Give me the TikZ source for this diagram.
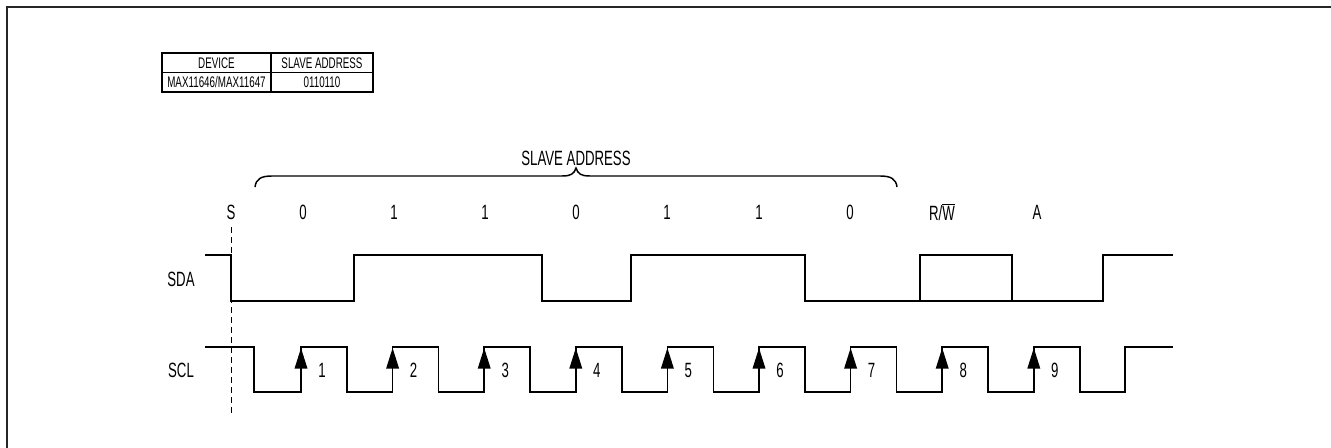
\documentclass[tikz,border=0pt]{standalone}
\usepackage{fontspec}
\setmainfont[FakeStretch=0.64]{Liberation Sans}
\usetikzlibrary{arrows.meta}
\begin{document}
\begin{tikzpicture}[x=0.75pt,y=-0.75pt,
  sig/.style={line width=1.1pt, line join=miter},
  frame/.style={line width=1.6pt, draw=black!85},
  tab/.style={line width=0.9pt},
  lbl/.style={font=\fontsize{15.5}{17}\selectfont, inner sep=0pt},
  tlbl/.style={font=\fontsize{11.5}{13}\selectfont, inner sep=0pt},
  clk/.style={line width=1.1pt, -{Triangle[length=15.5pt, width=9.5pt]}},
  guide/.style={line width=0.75pt, dash pattern=on 4.5pt off 3pt}]
\useasboundingbox (0,0) rectangle (1331,448);
% frame (top and left edges only visible)
\draw[frame] (1331,7) -- (7,7) -- (7,448);
% table
\draw[tab] (162,53) rectangle (373,92);
\draw[tab] (162,72.5) -- (373,72.5);
\draw[tab] (271,53) -- (271,92);
\node[tlbl] (tdev) at (216.5,63) {DEVICE};
\node[tlbl] (tsa) at (322,63) {SLAVE ADDRESS};
\node[tlbl] (tmax) at (216.5,82.5) {MAX11646/MAX11647};
\node[tlbl] (taddr) at (322,82.5) {0110110};
% brace
\node[lbl] (salbl) at (576,158) {SLAVE ADDRESS};
\draw[sig] (255,187) .. controls (256,179) and (261,176) .. (272,176) -- (562,176)
  .. controls (571,176) and (574,174) .. (576,168)
  .. controls (578,174) and (581,176) .. (590,176) -- (880,176)
  .. controls (891,176) and (896,179) .. (897,187);
% bit labels
\foreach \x/\t [count=\i] in {231/S,303/0,394/1,485/1,576/0,667/1,759/1,850/0,1037/A}
  \node[lbl] (bit\i) at (\x,212) {\t};
\node[lbl] (bitrw) at (942,212) {R/$\overline{\hbox{W}}$};
% signal names
\node[lbl] (sda) at (181,279) {SDA};
\node[lbl] (scl) at (181,370) {SCL};
% start guide
\coordinate (gtop) at (231,227);
\coordinate (gbot) at (231,416);
\draw[guide] (gtop) -- (gbot);
% SDA
\draw[sig] (205,255) -- (231,255) -- (231,301) -- (354,301) -- (354,255) -- (542,255)
  -- (542,301) -- (631,301) -- (631,255) -- (805,255) -- (805,301) -- (1103,301)
  -- (1103,255) -- (1173,255);
\draw[sig] (920,301) -- (920,255) -- (1012,255) -- (1012,301);
% SCL
\draw[sig] (205,347) -| (254,392)
  \foreach \k in {0,...,8}{ -| ({301+91.6*\k},347) -| ({347+91.6*\k},392) }
  -| (1125,347) -- (1173,347);
\foreach \k [evaluate=\k as \n using int(\k+1)] in {0,...,8}{
  \draw[clk] ({301+91.6*\k},392) -- ({301+91.6*\k},348);
  \node[lbl] (num\n) at ({322+91.6*\k},370) {\n};
}
\end{tikzpicture}
\end{document}
